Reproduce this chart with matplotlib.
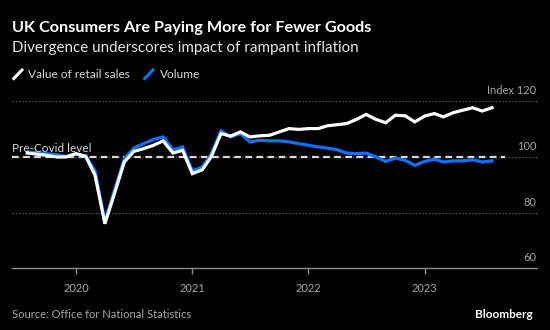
import matplotlib.pyplot as plt
import matplotlib.dates as mdates
import pandas as pd
from matplotlib.lines import Line2D

# monthly index, Aug 2019 - Aug 2023
months = pd.date_range("2019-08-01", "2023-08-01", freq="MS")

value_sales = [101.4, 101.0, 100.6, 100.0, 100.0, 101.2, 100.2, 93.4, 76.0, 86.8,
               98.2, 102.0, 103.0, 104.2, 105.8, 101.4, 102.4, 94.0, 95.4, 100.0,
               108.4, 107.5, 109.0, 107.2, 107.6, 107.8, 109.0, 110.2, 109.9, 110.2,
               110.2, 111.2, 111.6, 112.0, 113.5, 115.3, 113.5, 112.3, 115.0, 114.8,
               112.6, 114.7, 115.6, 114.4, 115.9, 116.8, 117.7, 116.5, 117.7]

volume = [101.8, 101.5, 101.2, 100.8, 100.2, 101.0, 100.4, 95.0, 77.0, 88.0,
          99.4, 103.2, 104.8, 106.3, 107.2, 102.6, 103.6, 95.0, 96.4, 101.0,
          109.4, 107.2, 108.4, 105.4, 106.0, 105.8, 105.8, 105.4, 104.8, 104.2,
          103.6, 103.2, 102.6, 101.4, 101.2, 101.4, 100.0, 98.4, 99.6, 98.8,
          97.0, 98.4, 99.2, 98.2, 98.6, 98.6, 99.0, 98.2, 98.6]

y_ticks = [60, 80, 100, 120]
y_labels = ["60", "80", "100", "Index 120"]
pre_covid = 100

plt.rcParams['font.family'] = ['Lato', 'DejaVu Sans']

bg = '#000000'
grey = '#a6a6a6'
blue = '#1270ff'

fig = plt.figure(figsize=(5.5, 3.3), dpi=100, facecolor=bg)
ax = fig.add_axes([0.0224, 0.187, 0.9532, 0.506], facecolor=bg)

# gridlines
for t in y_ticks[1:]:
    ax.axhline(t, color='#777777', lw=0.8, ls=(0, (1, 2)), zorder=1)
ax.axhline(pre_covid, xmax=0.94, color='#d9d9d9', lw=1.6, ls=(0, (3, 2)), zorder=2)

ax.plot(months, volume, color=blue, lw=2.3, zorder=3, solid_joinstyle='miter')
ax.plot(months, value_sales, color='white', lw=2.3, zorder=4, solid_joinstyle='miter')

ax.set_ylim(60, 120)
ax.set_xlim(pd.Timestamp("2019-06-15"), pd.Timestamp("2023-12-19"))

for s in ['top', 'right', 'left']:
    ax.spines[s].set_visible(False)
ax.spines['bottom'].set_color('#8c8c8c')
ax.spines['bottom'].set_linewidth(1.0)

ax.xaxis.set_major_locator(mdates.YearLocator())
ax.xaxis.set_major_formatter(mdates.DateFormatter('%Y'))
ax.tick_params(axis='x', colors='#8c8c8c', labelcolor=grey, length=4, width=1,
               labelsize=8, pad=6.5)
ax.set_yticks([])

# y labels sit above their gridlines at the right edge
for t, lab in zip(y_ticks, y_labels):
    ax.annotate(lab, xy=(1.0, t), xycoords=('axes fraction', 'data'),
                xytext=(0, 7.5), textcoords='offset points',
                ha='right', va='center', color=grey, fontsize=8, annotation_clip=False)

ax.annotate('Pre-Covid level', xy=(0.0, pre_covid), xycoords=('axes fraction', 'data'),
            xytext=(0, 6), textcoords='offset points', ha='left', va='center',
            color='#d9d9d9', fontsize=8.5)

# title block
fig.text(0.0224, 0.915, 'UK Consumers Are Paying More for Fewer Goods', color='white',
         fontsize=11.7, fontweight='bold', va='center', ha='left')
fig.text(0.0224, 0.856, 'Divergence underscores impact of rampant inflation', color='#e6e6e6',
         fontsize=10.9, va='center', ha='left')

# legend
fig.add_artist(Line2D([0.025, 0.040], [0.762, 0.788], color='white', lw=2.2))
fig.text(0.051, 0.775, 'Value of retail sales', color='#d9d9d9', fontsize=8.6, va='center')
fig.add_artist(Line2D([0.263, 0.278], [0.762, 0.788], color=blue, lw=2.2))
fig.text(0.290, 0.775, 'Volume', color='#d9d9d9', fontsize=8.6, va='center')

fig.text(0.0224, 0.046, 'Source: Office for National Statistics', color=grey,
         fontsize=8, va='center', ha='left')
fig.text(0.969, 0.046, 'Bloomberg', color='white', fontsize=8.5, fontweight='bold',
         va='center', ha='right')

fig.savefig('out.png', dpi=100, facecolor=bg)
